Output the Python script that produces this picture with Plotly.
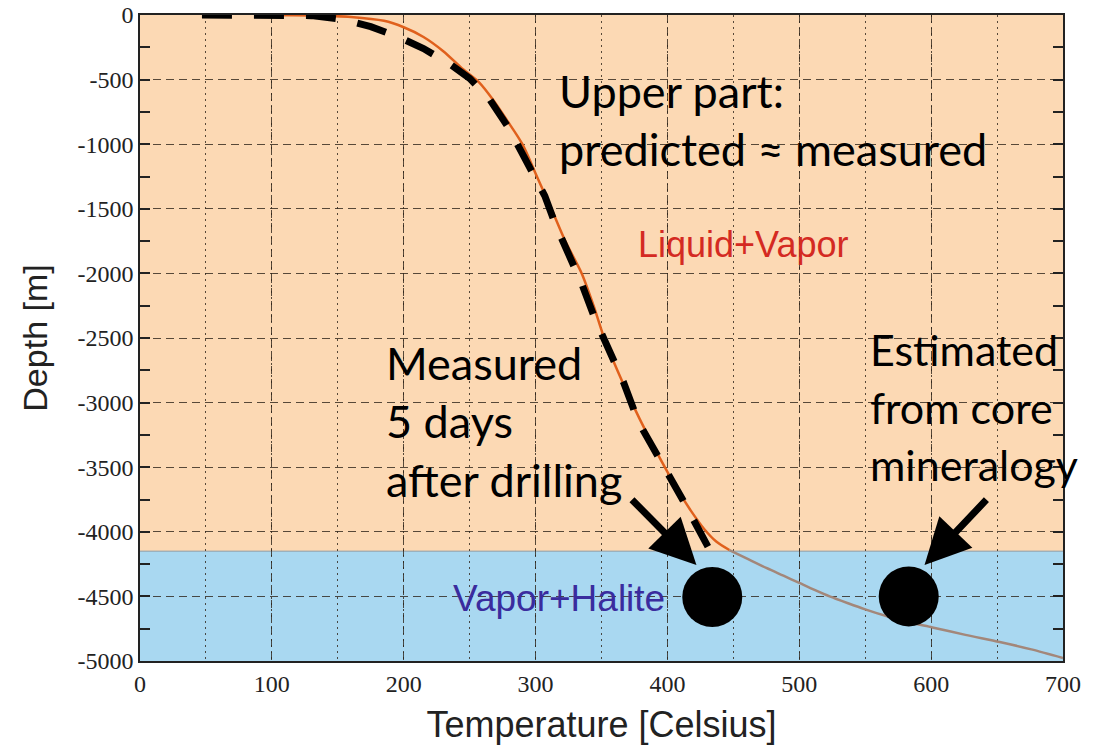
import plotly.graph_objects as go

# Predicted temperature profile (Liquid+Vapor part)
pred_T = [95, 130, 160, 185, 200, 215, 230, 245, 257, 268, 278, 290, 301, 312, 323, 335,
          344, 352, 362, 373, 385, 398, 408, 418, 428, 437, 447]
pred_D = [0, -3, -15, -45, -95, -170, -280, -420, -520, -660, -810, -1000, -1250, -1500,
          -1760, -2000, -2250, -2500, -2750, -3000, -3250, -3500, -3680, -3840, -3980,
          -4075, -4141]
# Predicted profile, Vapor+Halite part
deep_T = [447, 462, 475, 488, 500, 512, 523, 537, 550, 566, 583, 601, 626, 652, 676, 700]
deep_D = [-4141, -4215, -4280, -4340, -4396, -4452, -4500, -4553, -4600, -4652, -4700,
          -4740, -4798, -4853, -4910, -4977]
# Measured 5 days after drilling
meas_T = [47, 100, 130, 154, 175, 195, 215, 235, 250, 265, 280, 295, 307, 315, 325, 335,
          345, 356, 367, 378, 392, 402, 412, 422, 432]
meas_D = [0, 0, -5, -35, -90, -165, -260, -380, -490, -650, -880, -1170, -1400, -1620,
          -1850, -2080, -2350, -2590, -2850, -3150, -3390, -3580, -3760, -3960, -4140]
# Single point estimates
point_T = [434, 583]
point_D = [-4505, -4500]
boundary_depth = -4150
x_ticks = [0, 100, 200, 300, 400, 500, 600, 700]
y_ticks = [0, -500, -1000, -1500, -2000, -2500, -3000, -3500, -4000, -4500, -5000]

ORANGE_BG = "#FCD9B4"
BLUE_BG = "#A9D8F1"
GRID = "rgba(45,35,25,0.8)"

fig = go.Figure()

fig.add_trace(go.Scatter(x=pred_T, y=pred_D, mode="lines", line_shape="spline",
                         line=dict(color="#E0601C", width=2.5, smoothing=0.8), showlegend=False))
fig.add_trace(go.Scatter(x=deep_T, y=deep_D, mode="lines", line_shape="spline",
                         line=dict(color="#A3877A", width=2.5, smoothing=0.8), showlegend=False))
fig.add_trace(go.Scatter(x=meas_T, y=meas_D, mode="lines",
                         line=dict(color="black", width=7, dash="30px,22px"), showlegend=False))
fig.add_trace(go.Scatter(x=point_T, y=point_D, mode="markers",
                         marker=dict(color="black", size=60), showlegend=False))

fig.add_shape(type="rect", xref="x", yref="y", x0=0, x1=700, y0=boundary_depth, y1=0,
              fillcolor=ORANGE_BG, line=dict(width=0), layer="below")
fig.add_shape(type="rect", xref="x", yref="y", x0=0, x1=700, y0=-5000, y1=boundary_depth,
              fillcolor=BLUE_BG, line=dict(width=0), layer="below")
fig.add_shape(type="line", xref="x", yref="y", x0=0, x1=700, y0=boundary_depth, y1=boundary_depth,
              line=dict(color="#8A9AA6", width=1), layer="below")

text_font = dict(family="Lato", size=45, color="black")

def label(x, y, txt, font):
    fig.add_annotation(x=x, y=y, xref="x", yref="y", text=txt, showarrow=False,
                       xanchor="left", yanchor="middle", font=font)

label(316, -590, "Upper part:", text_font)
label(316, -1035, "predicted ≈ measured", text_font)
label(185, -2690, "Measured", text_font)
label(185, -3140, "5 days", text_font)
label(185, -3600, "after drilling", text_font)
label(552, -2590, "Estimated", dict(family="Lato", size=43, color="black"))
label(552, -3040, "from core", dict(family="Lato", size=43, color="black"))
label(552, -3480, "mineralogy", dict(family="Lato", size=43, color="black"))

label(376, -1780, "Liquid+Vapor",
      dict(family="Liberation Sans", size=36, color="#D42A22"))
label(236, -4520, "Vapor+Halite",
      dict(family="Liberation Sans", size=37, color="#3A2C9E"))

# Arrows
for tip, tail in [((422, -4257), (372, -3740)), ((595, -4257), (643, -3740))]:
    fig.add_annotation(x=tip[0], y=tip[1], ax=tail[0], ay=tail[1], xref="x", yref="y",
                       axref="x", ayref="y", text="", showarrow=True, arrowhead=2,
                       arrowsize=1.3, arrowwidth=7, arrowcolor="black")

tick_font = dict(family="Times New Roman, Liberation Serif, DejaVu Serif, serif",
                 size=24, color="#222")

fig.update_xaxes(range=[0, 700], tickvals=x_ticks, ticktext=[str(v) for v in x_ticks],
                 showgrid=True, gridcolor=GRID, gridwidth=1.3, griddash="8px,5px",
                 minor=dict(dtick=50, tick0=0, showgrid=True, gridcolor=GRID, gridwidth=1.3,
                            griddash="2px,4px", ticks=""),
                 showline=True, linecolor="#222", linewidth=1.5, mirror=True,
                 ticks="", tickfont=tick_font, zeroline=False, automargin=False,
                 title=dict(text="Temperature [Celsius]",
                            font=dict(family="Liberation Sans", size=36, color="#222"),
                            standoff=16))
fig.update_yaxes(range=[-5000, 0], tickvals=y_ticks, ticktext=[str(v) for v in y_ticks],
                 showgrid=True, gridcolor=GRID, gridwidth=1.3, griddash="8px,5px",
                 minor=dict(dtick=250, tick0=0, showgrid=False, ticks="inside", ticklen=10,
                            tickcolor="#222", tickwidth=1.5),
                 showline=True, linecolor="#222", linewidth=1.5, mirror="ticks",
                 ticks="inside", ticklen=10, tickcolor="#222", tickwidth=1.5,
                 tickfont=tick_font, zeroline=False, automargin=False,
                 title=dict(text="Depth [m]",
                            font=dict(family="Liberation Sans", size=34, color="#222"),
                            standoff=20))

fig.update_layout(width=1105, height=746, margin=dict(l=140, r=42, t=15, b=85),
                  plot_bgcolor="white", paper_bgcolor="white", showlegend=False)

fig.write_html("out.html")
